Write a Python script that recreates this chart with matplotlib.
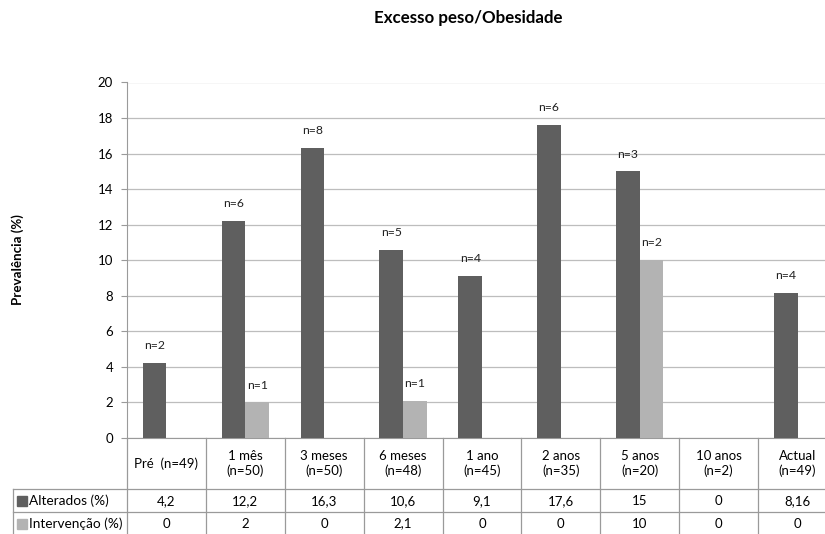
import matplotlib
matplotlib.use("Agg")
import matplotlib.pyplot as plt
from matplotlib import transforms

plt.rcParams['font.family'] = ['Lato', 'DejaVu Sans']

# Data
categories = ["Pré  (n=49)", "1 mês\n(n=50)", "3 meses\n(n=50)", "6 meses\n(n=48)",
              "1 ano\n(n=45)", "2 anos\n(n=35)", "5 anos\n(n=20)", "10 anos\n(n=2)",
              "Actual\n(n=49)"]
alterados = [4.2, 12.2, 16.3, 10.6, 9.1, 17.6, 15, 0, 8.16]
intervencao = [0, 2, 0, 2.1, 0, 0, 10, 0, 0]
alterados_txt = ["4,2", "12,2", "16,3", "10,6", "9,1", "17,6", "15", "0", "8,16"]
intervencao_txt = ["0", "2", "0", "2,1", "0", "0", "10", "0", "0"]
n_alterados = ["n=2", "n=6", "n=8", "n=5", "n=4", "n=6", "n=3", "", "n=4"]
n_intervencao = ["", "n=1", "", "n=1", "", "", "n=2", "", ""]
series_names = ["Alterados (%)", "Intervenção (%)"]

dark = "#5f5f5f"
light = "#b3b3b3"
grid_c = "#bdbdbd"
line_c = "#9a9a9a"

W, H = 825, 534
fig = plt.figure(figsize=(W / 100, H / 100), dpi=100)
left_px, right_px, top_px, bot_px = 127, 837, 82.5, 438
ax = fig.add_axes([left_px / W, 1 - bot_px / H, (right_px - left_px) / W,
                   (bot_px - top_px) / H])

x = list(range(len(categories)))
bw = 0.3
ax.bar([i - bw / 2 for i in x], alterados, width=bw, color=dark, zorder=3)
ax.bar([i + bw / 2 for i in x], intervencao, width=bw, color=light, zorder=3)

for i in x:
    if n_alterados[i]:
        ax.annotate(n_alterados[i], (i - bw / 2, alterados[i]), xytext=(0, 12.5),
                    textcoords="offset points", ha="center", va="center",
                    fontsize=8.8, color="#222222")
    if n_intervencao[i]:
        ax.annotate(n_intervencao[i], (i + bw / 2, intervencao[i]), xytext=(0, 12.5),
                    textcoords="offset points", ha="center", va="center",
                    fontsize=8.8, color="#222222")

ax.set_xlim(-0.5, len(categories) - 0.5)
ax.set_ylim(0, 20)
ax.set_yticks(range(0, 21, 2))
ax.tick_params(axis="y", length=4, width=0.8, color=line_c, labelsize=9.5, pad=6)
ax.tick_params(axis="x", bottom=False, labelbottom=False)
ax.yaxis.grid(True, color=grid_c, linewidth=0.9, zorder=0)
ax.set_axisbelow(True)
for s in ["top", "right"]:
    ax.spines[s].set_visible(False)
ax.spines["left"].set_color(line_c)
ax.spines["bottom"].set_color(line_c)

fig.text(18 / W, 1 - 260 / H, "Prevalência (%)", rotation=90, ha="center",
         va="center", fontsize=9.6, fontweight="bold")
fig.text(468 / W, 1 - 18 / H, "Excesso peso/Obesidade", ha="center", va="center",
         fontsize=12.2, fontweight="bold")

# Data table under the axis
trans = transforms.blended_transform_factory(ax.transData, ax.transAxes)
ah = bot_px - top_px


def yax(py):
    return -(py - bot_px) / ah


row1, row2, row_end = 489, 512, 540
leg_left = (13 - left_px) / ((right_px - left_px) / len(categories)) - 0.5

# vertical lines between category columns
for k in range(len(categories) + 1):
    xb = k - 0.5
    ax.plot([xb, xb], [yax(bot_px), yax(row_end)], transform=trans, color=line_c,
            lw=0.9, clip_on=False)
# legend column left border and row lines
ax.plot([leg_left, leg_left], [yax(row1), yax(row_end)], transform=trans,
        color=line_c, lw=0.9, clip_on=False)
for ry in (row1, row2):
    ax.plot([leg_left, len(categories) - 0.5], [yax(ry), yax(ry)], transform=trans,
            color=line_c, lw=0.9, clip_on=False)

for i, c in enumerate(categories):
    ax.text(i, yax((bot_px + row1) / 2), c, transform=trans, ha="center",
            va="center", fontsize=9.5, linespacing=1.3)
    ax.text(i, yax((row1 + row2) / 2 + 0.5), alterados_txt[i], transform=trans,
            ha="center", va="center", fontsize=9.5)
    ax.text(i, yax((row2 + 534) / 2 + 0.5), intervencao_txt[i], transform=trans,
            ha="center", va="center", fontsize=9.5)

# legend keys inside the table
for name, col, ry0, ry1 in ((series_names[0], dark, row1, row2),
                            (series_names[1], light, row2, 534)):
    yc = (ry0 + ry1) / 2 + 0.5
    fig.patches.append(plt.Rectangle((17 / W, 1 - (yc + 5) / H), 10 / W, 10 / H,
                                     transform=fig.transFigure, color=col))
    fig.text(29 / W, 1 - yc / H, name, ha="left", va="center", fontsize=9.8)

fig.savefig("out.png", dpi=100)
